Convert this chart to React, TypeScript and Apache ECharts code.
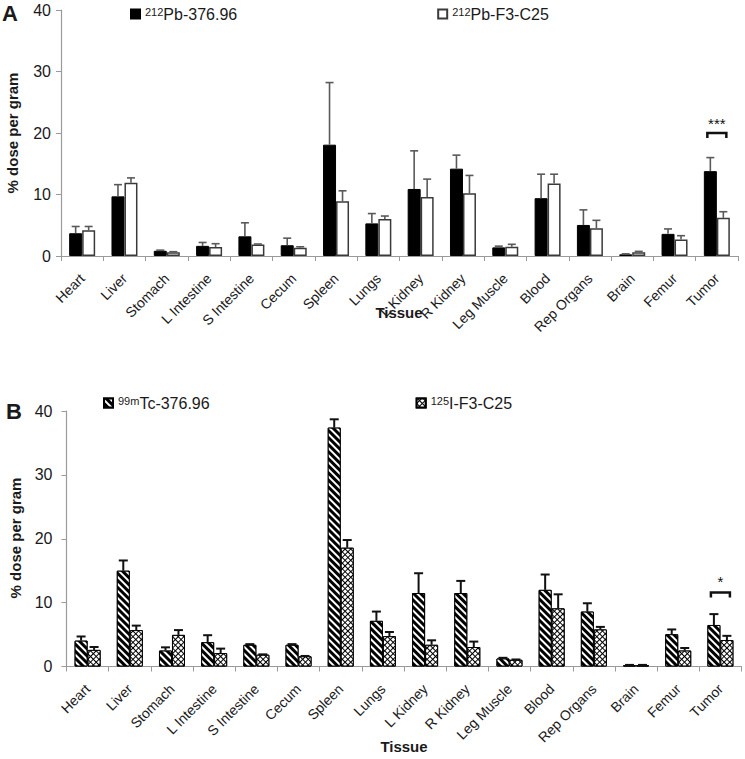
import React, { useEffect, useRef } from "react";
import * as echarts from "echarts";

const tissues = ["Heart", "Liver", "Stomach", "L Intestine", "S Intestine", "Cecum", "Spleen", "Lungs", "L Kidney", "R Kidney", "Leg Muscle", "Blood", "Rep Organs", "Brain", "Femur", "Tumor"];
const yTicks = [0, 10, 20, 30, 40];

// Panel A
const pb376 = [3.7, 9.7, 0.85, 1.65, 3.2, 1.75, 18.1, 5.3, 10.9, 14.2, 1.4, 9.4, 5.05, 0.27, 3.6, 13.8];
const pb376Sd = [1.1, 1.9, 0.1, 0.55, 2.2, 1.15, 10.1, 1.6, 6.2, 2.2, 0.2, 3.9, 2.45, 0.08, 0.8, 2.2];
const pbF3 = [4.2, 11.9, 0.6, 1.45, 1.85, 1.35, 8.9, 6.0, 9.6, 10.2, 1.5, 11.8, 4.5, 0.6, 2.7, 6.2];
const pbF3Sd = [0.6, 0.8, 0.1, 0.55, 0.1, 0.15, 1.7, 0.5, 2.9, 2.9, 0.4, 1.5, 1.3, 0.15, 0.6, 1.0];
const sigA = [{ tissue: "Tumor", y: 20, mark: "***" }];

// Panel B
const tc376 = [4.05, 15.0, 2.5, 3.8, 3.4, 3.4, 37.4, 7.15, 11.5, 11.5, 1.26, 12.0, 8.6, 0.2, 5.05, 6.5];
const tc376Sd = [0.65, 1.6, 0.5, 1.1, 0.1, 0.1, 1.3, 1.45, 3.1, 1.9, 0.1, 2.4, 1.3, 0.05, 0.75, 1.7];
const iF3 = [2.6, 5.7, 4.95, 2.1, 1.85, 1.6, 18.6, 4.75, 3.4, 3.05, 1.05, 9.1, 5.8, 0.2, 2.5, 4.15];
const iF3Sd = [0.45, 0.7, 0.75, 0.7, 0.05, 0.05, 1.2, 0.65, 0.7, 0.85, 0.05, 2.2, 0.4, 0.05, 0.4, 0.65];
const sigB = [{ tissue: "Tumor", y: 11.6, mark: "*" }];

const namesA = ["212Pb-376.96", "212Pb-F3-C25"];
const namesB = ["99mTc-376.96", "125I-F3-C25"];

const FONT = "Liberation Sans, Arial, sans-serif";
const TXT = "#1a1a1a";
const AX = "#9a9a9a";
const BW = 13;

const stripes = {
  symbol: "rect",
  symbolSize: 1,
  color: "#ffffff",
  dashArrayX: [1, 0],
  dashArrayY: [2, 2.5],
  rotation: Math.PI / 4,
};
const checker = {
  symbol: "rect",
  symbolSize: 1,
  color: "#ffffff",
  dashArrayX: [2.6, 1],
  dashArrayY: [2.6, 1],
  rotation: Math.PI / 4,
};

function errSeries(means: number[], sds: number[], offset: number, stroke: string, lw: number, cap: number) {
  return {
    type: "custom",
    z: 5,
    data: means.map((m, i) => [i, m, sds[i]]),
    renderItem: (params: any, api: any) => {
      const i = api.value(0);
      const m = api.value(1);
      const s = api.value(2);
      const p0 = api.coord([i, m]);
      const p1 = api.coord([i, m + s]);
      const cx = p0[0] + offset;
      const st = { stroke, lineWidth: lw };
      return {
        type: "group",
        children: [
          { type: "line", shape: { x1: cx, y1: p0[1], x2: cx, y2: p1[1] }, style: st },
          { type: "line", shape: { x1: cx - cap / 2, y1: p1[1], x2: cx + cap / 2, y2: p1[1] }, style: st },
        ],
      };
    },
  };
}

function sigSeries(sig: { tissue: string; y: number; mark: string }[], textDy: number) {
  return {
    type: "custom",
    z: 6,
    data: sig.map((s) => [tissues.indexOf(s.tissue), s.y]),
    renderItem: (params: any, api: any) => {
      const p = api.coord([api.value(0), api.value(1)]);
      const half = BW / 2 + 3;
      return {
        type: "group",
        children: [
          {
            type: "polyline",
            shape: { points: [[p[0] - half, p[1] + 5], [p[0] - half, p[1]], [p[0] + half, p[1]], [p[0] + half, p[1] + 5]] },
            style: { stroke: "#111", lineWidth: 2.5, fill: "none" },
          },
          {
            type: "text",
            x: p[0],
            y: p[1] + textDy,
            style: { text: sig[params.dataIndex].mark, fontSize: 15, fontFamily: FONT, fill: "#111", align: "center", verticalAlign: "middle" },
          },
        ],
      };
    },
  };
}

function xAxisOpt() {
  return {
    type: "category",
    data: tissues,
    axisLine: { lineStyle: { color: AX, width: 1.2 } },
    axisTick: { show: true, length: 5, lineStyle: { color: AX } },
    axisLabel: { rotate: 45, margin: 20, padding: [16, 0, 0, 0], fontSize: 14, color: TXT, interval: 0, fontFamily: FONT },
  };
}
function yAxisOpt(margin: number) {
  return {
    type: "value",
    min: yTicks[0],
    max: yTicks[yTicks.length - 1],
    interval: yTicks[1] - yTicks[0],
    axisLine: { show: true, lineStyle: { color: AX, width: 1.2 } },
    axisTick: { show: true, length: 5, lineStyle: { color: AX } },
    splitLine: { show: false },
    axisLabel: { fontSize: 16, color: TXT, margin, fontFamily: FONT },
  };
}

const legendFmt = (name: string) => name.replace(/^(\d+m?)(.*)$/, "{sup|$1}{main|$2}");
const legendRich = {
  sup: { fontSize: 11, verticalAlign: "top", color: TXT, fontFamily: FONT },
  main: { fontSize: 16, color: TXT, fontFamily: FONT },
};
function legendOpt(names: string[], left: number, top: number, gap: number) {
  return {
    data: names,
    left,
    top,
    itemGap: gap,
    icon: "rect",
    itemWidth: 9,
    itemHeight: 9,
    formatter: legendFmt,
    textStyle: { rich: legendRich },
  };
}

function txt(text: string, x: number, y: number, size: number, extra: any = {}, rotation = 0) {
  return {
    type: "text",
    x,
    y,
    rotation,
    style: { text, fontSize: size, fontWeight: "bold", fill: TXT, fontFamily: FONT, ...extra },
  };
}

function optionA(): any {
  return {
    animation: false,
    graphic: [
      txt("A", 2, 2, 22),
      txt("% dose per gram", 12, 133, 15, { align: "center", verticalAlign: "middle" }, Math.PI / 2),
      txt("Tissue", 399, 305, 15, { align: "center", verticalAlign: "top" }),
    ],
    legend: legendOpt(namesA, 125, 1, 200),
    grid: { left: 61, top: 10, width: 677, height: 246 },
    xAxis: xAxisOpt(),
    yAxis: yAxisOpt(10),
    series: [
      {
        name: namesA[0], type: "bar", data: pb376, barWidth: BW, barGap: "0%",
        itemStyle: { color: "#000000", borderColor: "#000000", borderWidth: 1 },
      },
      {
        name: namesA[1], type: "bar", data: pbF3, barWidth: BW, barGap: "0%",
        itemStyle: { color: "#ffffff", borderColor: "#3a3a3a", borderWidth: 1.5 },
      },
      errSeries(pb376, pb376Sd, -BW / 2, "#5a5a5a", 1.6, 8),
      errSeries(pbF3, pbF3Sd, BW / 2, "#5a5a5a", 1.6, 8),
      sigSeries(sigA, -10),
    ],
  };
}

function optionB(): any {
  return {
    animation: false,
    graphic: [
      txt("B", 6, 20, 22),
      txt("% dose per gram", 15, 158, 15, { align: "center", verticalAlign: "middle" }, Math.PI / 2),
      txt("Tissue", 404, 359, 15, { align: "center", verticalAlign: "top" }),
    ],
    legend: legendOpt(namesB, 98, 10, 206),
    grid: { left: 66.5, top: 31, width: 675, height: 255.5 },
    xAxis: xAxisOpt(),
    yAxis: yAxisOpt(14),
    series: [
      {
        name: namesB[0], type: "bar", data: tc376, barWidth: BW, barGap: "0%",
        itemStyle: { color: "#000000", borderColor: "#000000", borderWidth: 1, decal: stripes },
      },
      {
        name: namesB[1], type: "bar", data: iF3, barWidth: BW, barGap: "0%",
        itemStyle: { color: "#000000", borderColor: "#000000", borderWidth: 1, decal: checker },
      },
      errSeries(tc376, tc376Sd, -BW / 2, "#111111", 2, 9),
      errSeries(iF3, iF3Sd, BW / 2, "#111111", 2, 9),
      sigSeries(sigB, -11),
    ],
  };
}

function Panel({ option, top, height }: { option: any; top: number; height: number }) {
  const ref = useRef<HTMLDivElement>(null);
  useEffect(() => {
    if (!ref.current) return;
    const chart = echarts.init(ref.current, null, { renderer: "svg" });
    chart.setOption(option);
    return () => chart.dispose();
  }, []);
  return <div ref={ref} style={{ position: "absolute", left: 0, top, width: 745, height }} />;
}

export default function App() {
  return (
    <div style={{ position: "absolute", left: 0, top: 0, width: 745, height: 759, background: "#ffffff" }}>
      <Panel option={optionA()} top={0} height={380} />
      <Panel option={optionB()} top={380} height={379} />
    </div>
  );
}
